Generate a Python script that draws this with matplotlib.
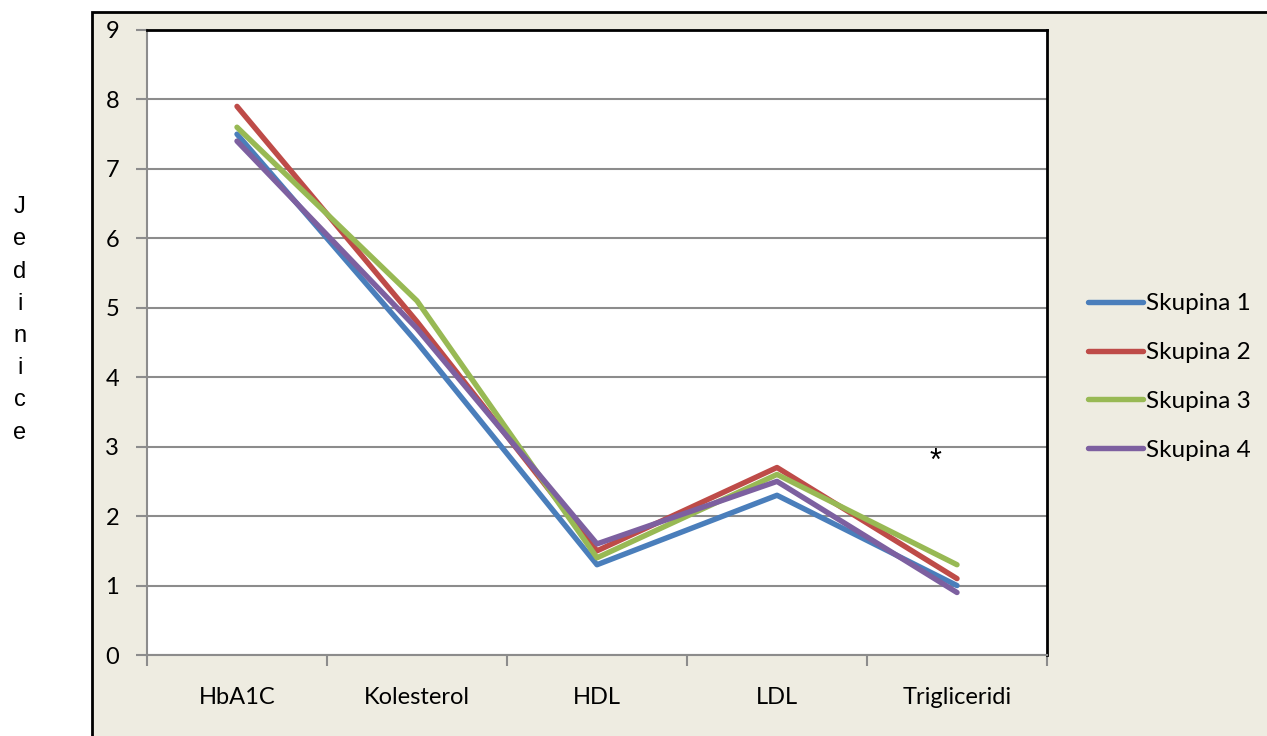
import matplotlib.pyplot as plt
from matplotlib.patches import Rectangle
from matplotlib.ticker import FixedLocator

# data
categories = ['HbA1C', 'Kolesterol', 'HDL', 'LDL', 'Trigliceridi']
skupina_1 = [7.5, 4.5, 1.3, 2.3, 1.0]
skupina_2 = [7.9, 4.8, 1.5, 2.7, 1.1]
skupina_3 = [7.6, 5.1, 1.4, 2.6, 1.3]
skupina_4 = [7.4, 4.7, 1.6, 2.5, 0.9]
series_names = ['Skupina 1', 'Skupina 2', 'Skupina 3', 'Skupina 4']
colors = ['#4A7EBB', '#BE4B48', '#98B954', '#7D60A0']

W, H = 1267, 736
fig = plt.figure(figsize=(W / 100, H / 100), dpi=100)
fig.patch.set_facecolor('white')

# beige chart frame (runs off the right and bottom edges)
frame = Rectangle((92 / W, -0.1), 1.2, 1.1 - 12 / H, transform=fig.transFigure,
                  facecolor='#EEECE1', edgecolor='black', linewidth=2, zorder=-5)
fig.patches.append(frame)

ax = fig.add_axes([147 / W, 81 / H, 900 / W, 625 / H])
ax.set_zorder(1)
ax.set_facecolor('white')

x = list(range(len(categories)))
for vals, name, c in zip([skupina_1, skupina_2, skupina_3, skupina_4], series_names, colors):
    ax.plot(x, vals, color=c, lw=3.9, solid_capstyle='round', solid_joinstyle='round', label=name, zorder=3)

ax.set_xlim(-0.5, len(categories) - 0.5)
ax.set_ylim(0, 9)
ax.set_yticks(range(0, 10))
ax.yaxis.grid(True, color='#8C8C8C', lw=1.5, zorder=1)
ax.set_axisbelow(True)

# category boundary ticks, labels at the centres
ax.xaxis.set_major_locator(FixedLocator([i - 0.5 for i in range(len(categories) + 1)]))
ax.xaxis.set_minor_locator(FixedLocator(x))
ax.set_xticklabels([], minor=False)
ax.set_xticklabels(categories, minor=True)
ax.tick_params(axis='x', which='major', length=8, width=1.5, color='#8C8C8C', direction='out')
ax.tick_params(axis='x', which='minor', length=0, pad=23, labelsize=17)
ax.tick_params(axis='y', length=8, width=1.5, color='#8C8C8C', direction='out', pad=12, labelsize=17)
for lab in ax.get_xticklabels(minor=True) + ax.get_yticklabels():
    lab.set_fontfamily('Lato')

for s in ['left', 'bottom']:
    ax.spines[s].set_color('#8C8C8C')
    ax.spines[s].set_linewidth(1.5)
for s in ['top', 'right']:
    ax.spines[s].set_color('black')
    ax.spines[s].set_linewidth(2)

ax.text(3.88, 2.78, '*', ha='center', va='center', fontsize=22, family='Liberation Sans')

# stacked y label
fig.text(20 / W, 1 - 320 / H, '\n'.join('Jedinice'), ha='center', va='center',
         fontsize=17, family='Liberation Sans', linespacing=1.6)

leg = ax.legend(loc='center left', bbox_to_anchor=(1066 / W, 1 - 377 / H), bbox_transform=fig.transFigure,
                frameon=False, handlelength=2.25, handletextpad=0.15, labelspacing=1.15,
                prop={'family': 'Lato', 'size': 17.5})
for line in leg.get_lines():
    line.set_linewidth(3.9)

fig.savefig('out.png', dpi=100)
